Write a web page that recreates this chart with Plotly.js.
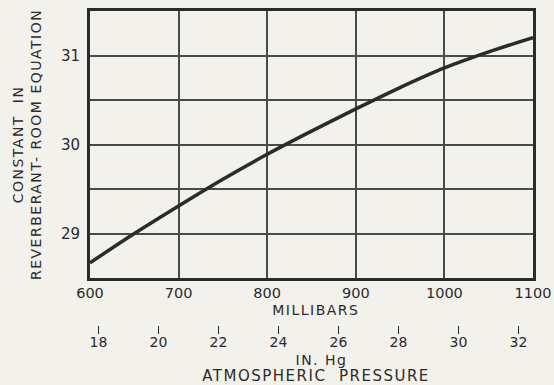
<!DOCTYPE html>
<html>
<head>
<meta charset="utf-8">
<script src="https://cdn.plot.ly/plotly-3.0.1.min.js"></script>
<style>
  html, body { margin: 0; padding: 0; background: #f3f1ec; }
  #chart { width: 554px; height: 385px; }
  #chart .annotation-text { letter-spacing: 1.5px; }
</style>
</head>
<body>
<div id="chart"></div>
<script>
// Atmospheric pressure in millibars
const pressureMb = [600, 650, 700, 750, 800, 850, 900, 950, 1000, 1050, 1100];
// Constant in reverberant-room equation
const constantValues = [28.67, 29.00, 29.31, 29.61, 29.89, 30.15, 30.40, 30.64, 30.86, 31.04, 31.20];

const mbTicks = [600, 700, 800, 900, 1000, 1100];
const mbTickLabels = ['600', '700', '800', '900', '1000', '1100'];
const inHgTicks = [18, 20, 22, 24, 26, 28, 30, 32];
const inHgTickLabels = ['18', '20', '22', '24', '26', '28', '30', '32'];
const constTicks = [29, 30, 31];
const constTickLabels = ['29', '30', '31'];

const MB_PER_INHG = 33.8639;
const ink = '#2b2b2b';
const gridInk = '#4a4a4a';
const fontFam = 'DejaVu Sans, Verdana, sans-serif';

const trace = {
  x: pressureMb,
  y: constantValues,
  type: 'scatter',
  mode: 'lines',
  line: { color: ink, width: 3.5, shape: 'spline', smoothing: 1 },
  hoverinfo: 'skip',
  showlegend: false
};

// invisible trace to activate the secondary inHg axis
const dummy = {
  x: [600 / MB_PER_INHG, 1100 / MB_PER_INHG],
  y: [null, null],
  xaxis: 'x2',
  yaxis: 'y',
  type: 'scatter',
  mode: 'lines',
  showlegend: false,
  hoverinfo: 'skip'
};

const layout = {
  width: 554,
  height: 385,
  margin: { l: 90, r: 21, t: 11, b: 60 },
  paper_bgcolor: '#f3f1ec',
  plot_bgcolor: '#f3f1ec',
  font: { family: fontFam, color: ink, size: 14 },
  xaxis: {
    range: [600, 1100],
    tickvals: mbTicks,
    ticktext: mbTickLabels,
    ticks: '',
    showgrid: true,
    gridcolor: gridInk,
    gridwidth: 2,
    showline: true,
    mirror: true,
    linecolor: ink,
    linewidth: 3,
    zeroline: false,
    tickfont: { size: 14.5, color: ink },
    anchor: 'y'
  },
  xaxis2: {
    range: [600 / MB_PER_INHG, 1100 / MB_PER_INHG],
    overlaying: 'x',
    anchor: 'free',
    position: 0,
    side: 'bottom',
    tickvals: inHgTicks,
    ticktext: inHgTickLabels,
    ticks: 'outside',
    ticklen: 8,
    tickwidth: 1.5,
    tickcolor: ink,
    ticklabelstandoff: -4,
    showgrid: false,
    showline: false,
    zeroline: false,
    tickfont: { size: 14, color: ink }
  },
  yaxis: {
    domain: [(325 - 278) / (385 - 60 - 11), 1],
    range: [28.5, 31.5],
    tickvals: constTicks,
    ticktext: constTickLabels,
    ticks: '',
    showgrid: true,
    gridcolor: gridInk,
    gridwidth: 2,
    minor: { dtick: 0.5, tick0: 28.5, showgrid: true, gridcolor: gridInk, gridwidth: 2, ticks: '' },
    showline: true,
    mirror: true,
    linecolor: ink,
    linewidth: 3,
    zeroline: false,
    tickfont: { size: 15, color: ink },
    ticklabelstandoff: 4
  },
  annotations: [
    { text: 'MILLIBARS', xref: 'paper', yref: 'paper', x: 0.51, y: 0.048, xanchor: 'center', yanchor: 'middle', showarrow: false, font: { size: 14, color: ink } },
    { text: 'IN. Hg', xref: 'paper', yref: 'paper', x: 0.523, y: -0.111, xanchor: 'center', yanchor: 'middle', showarrow: false, font: { size: 14, color: ink } },
    { text: 'ATMOSPHERIC  PRESSURE', xref: 'paper', yref: 'paper', x: 0.51, y: -0.162, xanchor: 'center', yanchor: 'middle', showarrow: false, font: { size: 15, color: ink } },
    { text: 'CONSTANT  IN<br>REVERBERANT- ROOM EQUATION', xref: 'paper', yref: 'paper', x: -0.142, y: 0.575, xanchor: 'center', yanchor: 'middle', textangle: -90, showarrow: false, font: { size: 14, color: ink } }
  ]
};

Plotly.newPlot('chart', [trace, dummy], layout, { staticPlot: true, displayModeBar: false });
</script>
</body>
</html>
